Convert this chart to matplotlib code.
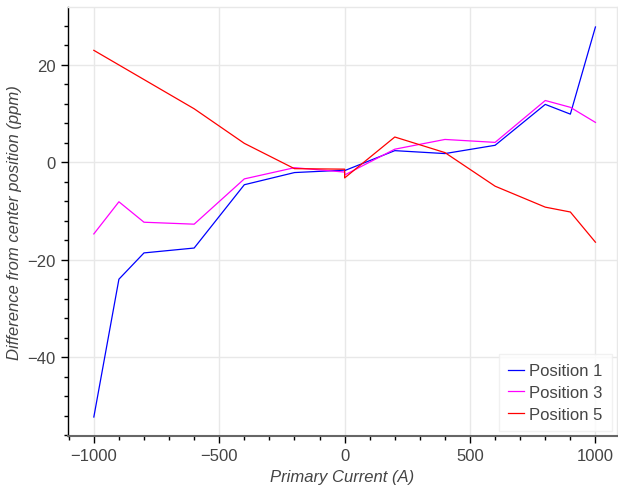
import numpy as np
import matplotlib
matplotlib.use("Agg")
import matplotlib.pyplot as plt
from matplotlib.ticker import MultipleLocator

plt.rcParams['font.family'] = ['Liberation Sans', 'DejaVu Sans']

# primary current sweep (0 A measured twice)
current = [-1000, -900, -800, -600, -400, -200, 0, 0, 200, 400, 600, 800, 900, 1000]

# difference from center position, ppm
pos1 = [-52.3, -24.0, -18.6, -17.6, -4.6, -2.1, -1.6, -1.7, 2.4, 1.8, 3.5, 11.9, 9.9, 27.8]
pos3 = [-14.7, -8.1, -12.3, -12.7, -3.4, -1.1, -2.0, -2.6, 2.7, 4.7, 4.1, 12.7, 11.3, 8.2]
pos5 = [23.0, 20.0, 17.0, 11.0, 3.9, -1.3, -1.4, -3.2, 5.2, 2.0, -4.9, -9.2, -10.2, -16.4]

series = [("Position 1", pos1, "#0000ff"),
          ("Position 3", pos3, "#ff00ff"),
          ("Position 5", pos5, "#ff0000")]

fig = plt.figure(figsize=(6.18, 4.89), dpi=100)
ax = fig.add_axes([68 / 618, 1 - 437 / 489, 549 / 618, 429 / 489])

for name, vals, col in series:
    ax.plot(current, vals, color=col, lw=0.9, label=name)

ax.set_xlim(-1103, 1086)
ax.set_ylim(-56.2, 31.9)

ax.xaxis.set_major_locator(MultipleLocator(500))
ax.xaxis.set_minor_locator(MultipleLocator(100))
ax.yaxis.set_major_locator(MultipleLocator(20))
ax.yaxis.set_minor_locator(MultipleLocator(4))

ax.grid(True, which="major", color="#e8e8e8", lw=1)
ax.set_axisbelow(True)

for s in ("top", "right"):
    ax.spines[s].set_color("#e8e8e8")
    ax.spines[s].set_linewidth(1)
ax.spines["left"].set_color("black")
ax.spines["left"].set_linewidth(1)
ax.spines["bottom"].set_color("#666666")
ax.spines["bottom"].set_linewidth(1.5)

ax.tick_params(which="major", direction="out", length=5, width=1, labelsize=12,
               labelcolor="#444444", pad=4)
ax.tick_params(which="minor", direction="out", length=3, width=1)

ax.set_xlabel("Primary Current (A)", fontsize=12, style="italic", color="#444444")
ax.set_ylabel("Difference from center position (ppm)", fontsize=12, style="italic",
              color="#444444")

leg = ax.legend(loc="lower right", fontsize=12, frameon=True, fancybox=False,
                handlelength=1.0, handletextpad=0.3, borderpad=0.55, labelspacing=0.4,
                borderaxespad=0.3)
leg.get_frame().set_edgecolor("#eeeeee")
leg.get_frame().set_linewidth(1)
for t in leg.get_texts():
    t.set_color("#444444")

fig.savefig("out.png", dpi=100)
